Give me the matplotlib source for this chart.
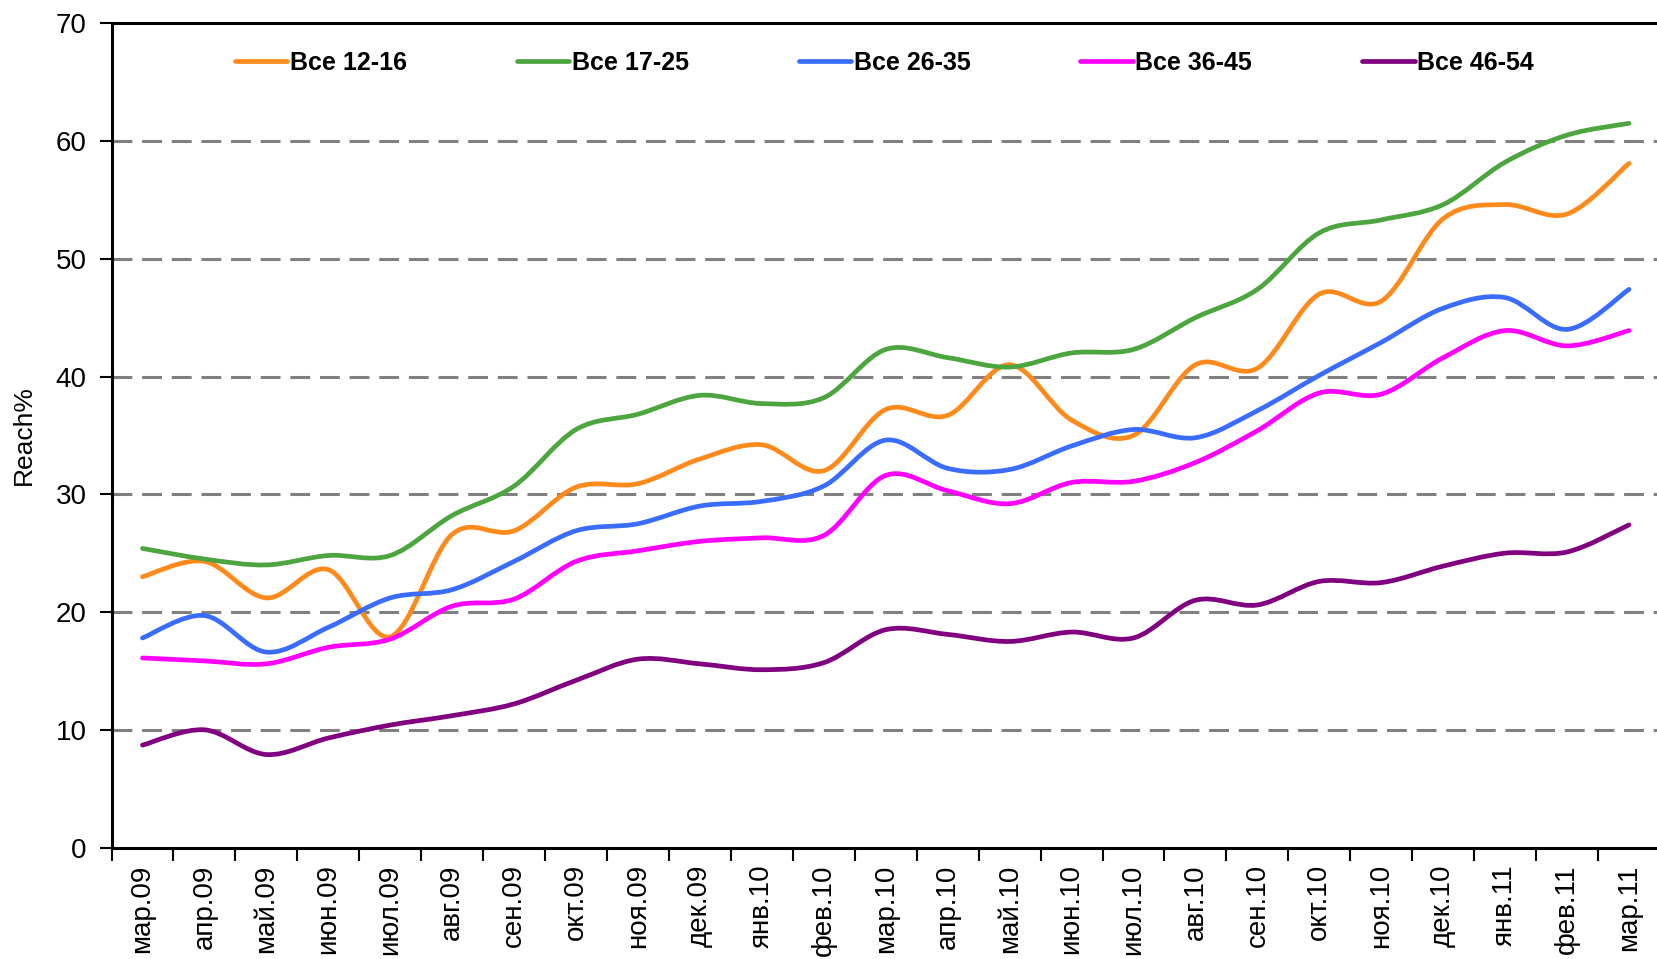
import numpy as np
import matplotlib
matplotlib.use("Agg")
import matplotlib.pyplot as plt
from matplotlib.path import Path
from matplotlib.patches import PathPatch
from matplotlib.lines import Line2D

plt.rcParams['font.family'] = ['Liberation Sans', 'DejaVu Sans']

months = ["мар.09", "апр.09", "май.09", "июн.09", "июл.09", "авг.09", "сен.09",
          "окт.09", "ноя.09", "дек.09", "янв.10", "фев.10", "мар.10", "апр.10",
          "май.10", "июн.10", "июл.10", "авг.10", "сен.10", "окт.10", "ноя.10",
          "дек.10", "янв.11", "фев.11", "мар.11"]

all_12_16 = [23.0, 24.3, 21.2, 23.6, 17.9, 26.6, 26.9, 30.6, 30.9, 33.0, 34.2, 32.0,
             37.2, 36.7, 41.0, 36.3, 35.0, 41.0, 40.7, 47.0, 46.4, 53.4, 54.6, 53.8, 58.1]
all_17_25 = [25.4, 24.5, 24.0, 24.8, 24.8, 28.2, 30.7, 35.5, 36.8, 38.4, 37.7, 38.2,
             42.3, 41.6, 40.8, 42.0, 42.3, 45.0, 47.4, 52.2, 53.3, 54.6, 58.2, 60.5, 61.5]
all_26_35 = [17.8, 19.7, 16.6, 18.7, 21.2, 21.9, 24.3, 26.9, 27.5, 29.0, 29.4, 30.7,
             34.6, 32.2, 32.1, 34.1, 35.5, 34.8, 37.1, 40.1, 42.9, 45.8, 46.7, 44.0, 47.4]
all_36_45 = [16.1, 15.85, 15.6, 17.0, 17.7, 20.5, 21.1, 24.3, 25.2, 26.0, 26.3, 26.5,
             31.6, 30.3, 29.2, 31.0, 31.1, 32.7, 35.4, 38.6, 38.5, 41.6, 43.9, 42.6, 43.9]
all_46_54 = [8.7, 10.0, 7.9, 9.3, 10.4, 11.2, 12.2, 14.2, 16.0, 15.6, 15.1, 15.7,
             18.5, 18.1, 17.5, 18.3, 17.8, 21.0, 20.6, 22.6, 22.5, 23.9, 25.0, 25.1, 27.4]

series_names = ["Все 12-16", "Все 17-25", "Все 26-35", "Все 36-45", "Все 46-54"]
series_values = [all_12_16, all_17_25, all_26_35, all_36_45, all_46_54]
colors = ["#FF8A1C", "#4CA53E", "#3A6CFF", "#FF00FF", "#800080"]

y_ticks = [0, 10, 20, 30, 40, 50, 60, 70]


def smooth_path(xs, ys):
    n = len(xs)
    verts = [(xs[0], ys[0])]
    codes = [Path.MOVETO]
    for i in range(n - 1):
        p0 = i - 1 if i > 0 else i
        p3 = i + 2 if i + 2 < n else i + 1
        c1 = (xs[i] + (xs[i + 1] - xs[p0]) / 6.0, ys[i] + (ys[i + 1] - ys[p0]) / 6.0)
        c2 = (xs[i + 1] - (xs[p3] - xs[i]) / 6.0, ys[i + 1] - (ys[p3] - ys[i]) / 6.0)
        verts += [c1, c2, (xs[i + 1], ys[i + 1])]
        codes += [Path.CURVE4] * 3
    return Path(verts, codes)


fig = plt.figure(figsize=(16.57, 9.59), dpi=100)
ax = fig.add_axes([0.0673, 0.1162, 0.9345, 0.8596])

x = np.arange(len(months))
ax.set_xlim(-0.5, len(months) - 0.5)
ax.set_ylim(0, 70)

for yv in y_ticks[1:-1]:
    ax.axhline(yv, color="#808080", lw=2.2, linestyle=(0, (6.5, 3.2)), zorder=1)

handles = []
for name, vals, c in zip(series_names, series_values, colors):
    p = smooth_path(x.astype(float), np.asarray(vals, dtype=float))
    patch = PathPatch(p, fill=False, edgecolor=c, lw=3.4, capstyle='round',
                      joinstyle='round', zorder=3)
    ax.add_patch(patch)
    handles.append(Line2D([], [], color=c, lw=3.4, solid_capstyle='round'))

ax.set_xticks(x)
ax.set_xticklabels(months, rotation=90, fontsize=20)
ax.set_xticks(np.arange(-0.5, len(months), 1.0), minor=True)
ax.tick_params(axis='x', which='major', length=0, pad=12)
ax.tick_params(axis='x', which='minor', length=9, width=1.5, direction='out')
ax.set_yticks(y_ticks)
ax.set_yticklabels([str(v) for v in y_ticks], fontsize=20)
ax.tick_params(axis='y', length=9, width=1.5, direction='out', pad=9)

for s in ["left", "bottom", "top"]:
    ax.spines[s].set_linewidth(2.2)
    ax.spines[s].set_color("black")
ax.spines["right"].set_visible(False)

ax.set_ylabel("Reach%", fontsize=19, labelpad=14)

leg = ax.legend(handles, series_names, ncol=5, loc='center',
                bbox_to_anchor=(0.499, 0.952), frameon=False,
                prop={'weight': 'bold', 'size': 18},
                handlelength=2.1, handletextpad=0.1, columnspacing=4.4)

fig.savefig("out.png", dpi=100)
